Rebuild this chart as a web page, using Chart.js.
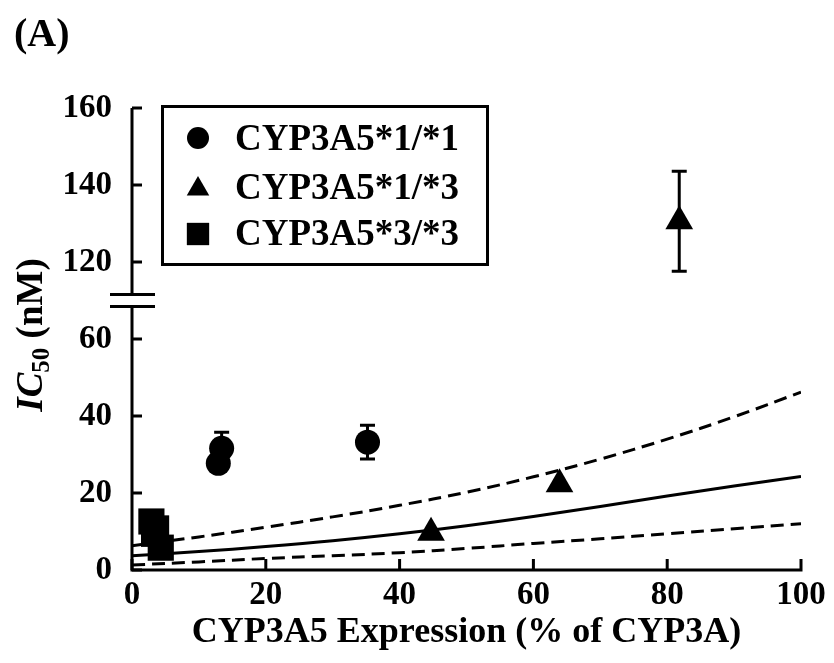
<!DOCTYPE html>
<html>
<head>
<meta charset="utf-8">
<script src="https://cdn.jsdelivr.net/npm/chart.js@4.4.0/dist/chart.umd.min.js"></script>
<style>
  html, body { margin: 0; padding: 0; background: #fff; }
</style>
</head>
<body>
<canvas id="chart" width="834" height="663"></canvas>
<script>
// Datos (IC50 en nM vs expresión de CYP3A5)
const xTickLabels = [0, 20, 40, 60, 80, 100];
const yTickLabels = [0, 20, 40, 60, 120, 140, 160];
const yStep = 20;
const breakLow = 60;   // último valor antes del corte
const breakHigh = 120; // primer valor después del corte

// CYP3A5*1/*1 (círculos)
const homo1X = [12.9, 13.4, 35.2];
const homo1Y = [27.7, 31.6, 33.2];
const homo1Err = [0, 4.2, 4.4];

// CYP3A5*1/*3 (triángulos)
const hetX = [44.7, 63.9, 81.8];
const hetY = [9.7, 22.3, 130.6];
const hetErr = [0, 0, 13];

// CYP3A5*3/*3 (cuadrados)
const homo3X = [2.9, 3.3, 3.6, 4.3];
const homo3Y = [12.6, 9.4, 10.8, 5.8];

// Curvas de predicción
const fitX = [0, 10, 20, 30, 40, 50, 60, 70, 80, 90, 100];
const fitMid = [3.7, 4.8, 6.1, 7.6, 9.4, 11.5, 13.9, 16.5, 19.2, 21.8, 24.3];
const fitUpper = [6.3, 8.6, 11.1, 13.8, 16.8, 20.2, 24.2, 28.8, 34.0, 39.8, 46.2];
const fitLower = [1.3, 2.1, 3.0, 3.7, 4.5, 5.6, 6.9, 8.1, 9.4, 10.7, 12.0];

const legendLabels = ["CYP3A5*1/*1", "CYP3A5*1/*3", "CYP3A5*3/*3"];

// Eje con corte: por encima del corte se desplaza para que 60 -> 120 ocupe un solo paso
const shift = breakHigh - breakLow - yStep;
const toAxis = (v) => (v >= breakHigh ? v - shift : v);
const toPoints = (xs, ys) => xs.map((x, i) => ({ x: x, y: toAxis(ys[i]) }));

const serif = '"Liberation Serif", "Times New Roman", serif';

const lineSet = (ys, dash) => ({
  type: "line",
  data: toPoints(fitX, ys),
  borderColor: "#000",
  borderWidth: 3,
  borderDash: dash,
  pointRadius: 0,
  tension: 0.4,
  fill: false,
});

const pointSet = (xs, ys, style, r) => ({
  type: "scatter",
  data: toPoints(xs, ys),
  pointStyle: style,
  pointRadius: r,
  pointHoverRadius: r,
  backgroundColor: "#000",
  borderColor: "#000",
  borderWidth: 0,
  clip: false,
});

const errorSets = [
  { xs: homo1X, ys: homo1Y, err: homo1Err },
  { xs: hetX, ys: hetY, err: hetErr },
];

const brokenAxes = {
  id: "brokenAxes",
  afterDatasetsDraw(chart) {
    const ctx = chart.ctx;
    const xs = chart.scales.x;
    const ys = chart.scales.y;
    ctx.save();
    ctx.strokeStyle = "#000";
    ctx.lineWidth = 3;
    errorSets.forEach((s) => {
      s.err.forEach((e, i) => {
        if (!e) return;
        const px = xs.getPixelForValue(s.xs[i]);
        const c = toAxis(s.ys[i]);
        const top = ys.getPixelForValue(c + e);
        const bot = ys.getPixelForValue(c - e);
        ctx.beginPath();
        ctx.moveTo(px, top);
        ctx.lineTo(px, bot);
        ctx.moveTo(px - 7.5, top);
        ctx.lineTo(px + 7.5, top);
        ctx.moveTo(px - 7.5, bot);
        ctx.lineTo(px + 7.5, bot);
        ctx.stroke();
      });
    });
    ctx.restore();
  },
  afterDraw(chart) {
    const ctx = chart.ctx;
    const xs = chart.scales.x;
    const ys = chart.scales.y;
    const area = chart.chartArea;
    ctx.save();
    ctx.strokeStyle = "#000";
    ctx.fillStyle = "#000";
    ctx.lineWidth = 3;

    // eje x y sus marcas hacia dentro
    ctx.beginPath();
    ctx.moveTo(area.left - 1.5, area.bottom);
    ctx.lineTo(area.right + 1.5, area.bottom);
    xTickLabels.forEach((v) => {
      const px = xs.getPixelForValue(v);
      ctx.moveTo(px, area.bottom);
      ctx.lineTo(px, area.bottom - 11);
    });
    ctx.stroke();

    // eje y cortado
    const mid = ys.getPixelForValue(breakLow + yStep / 2);
    ctx.beginPath();
    ctx.moveTo(area.left, area.bottom);
    ctx.lineTo(area.left, mid + 6);
    ctx.moveTo(area.left, mid - 6);
    ctx.lineTo(area.left, area.top);
    ys.ticks.forEach((t) => {
      const py = ys.getPixelForValue(t.value);
      ctx.moveTo(area.left, py);
      ctx.lineTo(area.left + 10, py);
    });
    ctx.moveTo(area.left - 22, mid - 6);
    ctx.lineTo(area.left + 23, mid - 6);
    ctx.moveTo(area.left - 22, mid + 6);
    ctx.lineTo(area.left + 23, mid + 6);
    ctx.stroke();

    // leyenda
    ctx.strokeRect(162.5, 106.5, 325, 158);
    const marks = [
      { style: "circle", r: 11, y: 138 },
      { style: "triangle", r: 13, y: 189 },
      { style: "rect", r: 15.8, y: 234 },
    ];
    const baselines = [150, 199, 245];
    ctx.font = "bold 37px " + serif;
    ctx.textBaseline = "alphabetic";
    ctx.textAlign = "left";
    marks.forEach((m, i) => {
      Chart.helpers.drawPoint(ctx, { pointStyle: m.style, radius: m.r, rotation: 0, borderWidth: 0 }, 198, m.y);
      ctx.fillText(legendLabels[i], 235, baselines[i]);
    });

    // título del eje x
    ctx.font = "bold 36px " + serif;
    ctx.textAlign = "center";
    ctx.textBaseline = "middle";
    ctx.fillText("CYP3A5 Expression (% of CYP3A)", (area.left + area.right) / 2, 633);

    // etiqueta del panel
    ctx.font = "bold 40px " + serif;
    ctx.textAlign = "left";
    ctx.textBaseline = "alphabetic";
    ctx.fillText("(A)", 14, 46);

    // título del eje y: IC50 (nM) con subíndice
    ctx.translate(30, (area.top + area.bottom) / 2 - 4);
    ctx.rotate(-Math.PI / 2);
    const f1 = "italic bold 37px " + serif;
    const f2 = "bold 25px " + serif;
    const f3 = "bold 37px " + serif;
    ctx.font = f1; const w1 = ctx.measureText("IC").width;
    ctx.font = f2; const w2 = ctx.measureText("50").width;
    ctx.font = f3; const w3 = ctx.measureText(" (nM)").width;
    let x0 = -(w1 + w2 + w3) / 2;
    ctx.font = f1; ctx.fillText("IC", x0, 12);
    ctx.font = f2; ctx.fillText("50", x0 + w1, 19);
    ctx.font = f3; ctx.fillText(" (nM)", x0 + w1 + w2, 12);
    ctx.restore();
  },
};

new Chart(document.getElementById("chart").getContext("2d"), {
  data: {
    datasets: [
      lineSet(fitMid, []),
      lineSet(fitUpper, [13, 7]),
      lineSet(fitLower, [13, 7]),
      pointSet(homo1X, homo1Y, "circle", 12.5),
      pointSet(hetX, hetY, "triangle", 16),
      pointSet(homo3X, homo3Y, "rect", 18.5),
    ],
  },
  options: {
    responsive: false,
    animation: false,
    layout: { padding: { top: 108, right: 33, left: 0, bottom: 0 } },
    plugins: { legend: { display: false }, tooltip: { enabled: false } },
    scales: {
      x: {
        type: "linear",
        min: 0,
        max: 100,
        grid: { display: false, drawTicks: false },
        border: { display: false },
        ticks: {
          stepSize: 20,
          padding: 6,
          color: "#000",
          font: { family: serif, size: 33, weight: "bold" },
        },
        afterFit: (s) => { s.height = 93; },
      },
      y: {
        type: "linear",
        min: 0,
        max: toAxis(yTickLabels[yTickLabels.length - 1]),
        grid: { display: false, drawTicks: false },
        border: { display: false },
        ticks: {
          stepSize: yStep,
          padding: 20,
          color: "#000",
          font: { family: serif, size: 33, weight: "bold" },
          callback: (v) => (v > breakLow ? v + shift : v),
        },
        afterFit: (s) => { s.width = 132; },
      },
    },
  },
  plugins: [brokenAxes],
});
</script>
</body>
</html>
